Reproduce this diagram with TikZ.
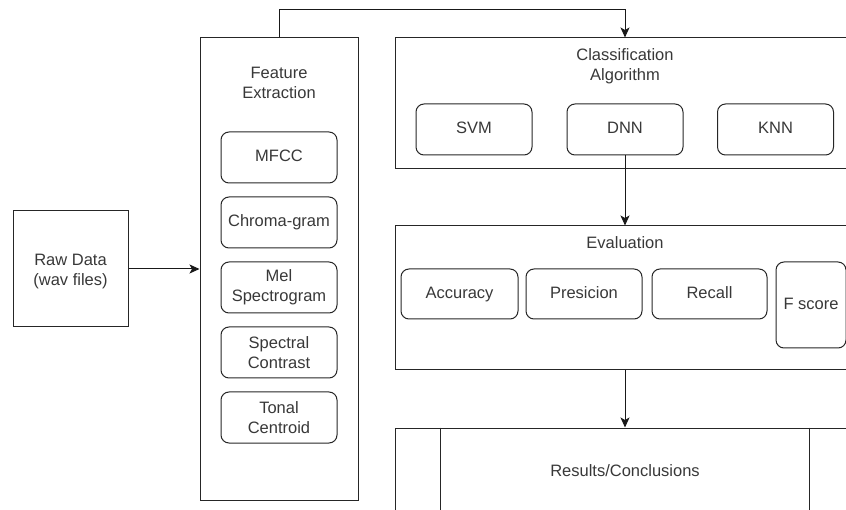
\documentclass[tikz,border=0pt]{standalone}
\usepackage{fontspec}
\setmainfont{Liberation Sans}
\usetikzlibrary{arrows.meta}
\begin{document}
\begin{tikzpicture}[x=1pt,y=-1pt,
  box/.style={draw=black!85, line width=1pt, rectangle, inner sep=0pt, align=center},
  rbox/.style={box, rounded corners=8pt, text=black!78},
  one/.style={text height=12pt, text depth=3.5pt},
  lbl/.style={align=center, inner sep=0pt, text=black!78},
  arr/.style={draw=black!90, line width=1pt, -{Stealth[length=10pt,width=9pt,inset=2.5pt]}},
  font=\fontsize{16.5}{20}\selectfont]
\useasboundingbox (0,0) rectangle (846,510);
\clip (0,0) rectangle (846,510);
% Raw data
\node[box, minimum width=115, minimum height=116] (raw) at (70.5,269) {};
\node[lbl] (rawl) at (70.5,271.5) {Raw Data\\(wav files)};
% Feature extraction
\node[box, minimum width=158, minimum height=462] (fe) at (279,269) {};
\node[lbl] (fel) at (279,83) {Feature\\Extraction};
\node[rbox, one, minimum width=116, minimum height=51] (mfcc) at (279,157.5) {MFCC};
\node[rbox, one, minimum width=116, minimum height=51] (chroma) at (279,222.5) {Chroma-gram};
\node[rbox, minimum width=116, minimum height=51] (mel) at (279,287.5) {Mel\\Spectrogram};
\node[rbox, minimum width=116, minimum height=51] (spec) at (279,352.5) {Spectral\\Contrast};
\node[rbox, minimum width=116, minimum height=51] (tonal) at (279,417.5) {Tonal\\Centroid};
% Classification
\node[box, minimum width=460, minimum height=131] (class) at (625,103.5) {};
\node[lbl] (classl) at (625,66) {Classification\\Algorithm};
\node[rbox, one, minimum width=116, minimum height=51] (svm) at (474,129.5) {SVM};
\node[rbox, one, minimum width=116, minimum height=51] (dnn) at (625,129.5) {DNN};
\node[rbox, one, minimum width=116, minimum height=51] (knn) at (775.5,129.5) {KNN};
% Evaluation
\node[box, minimum width=460, minimum height=144] (eval) at (625,298) {};
\node[lbl, one] (evall) at (625,244) {Evaluation};
\node[rbox, one, minimum width=117, minimum height=50] (acc) at (459.5,294) {Accuracy};
\node[rbox, one, minimum width=116, minimum height=50] (pre) at (584,294) {Presicion};
\node[rbox, one, minimum width=115, minimum height=50] (rec) at (709.5,294) {Recall};
\node[rbox, one, minimum width=70, minimum height=86] (fs) at (811,305) {F score};
% Results
\node[box, minimum width=460, minimum height=88] (res) at (625,472) {};
\node[lbl, one] (resl) at (625,472) {Results/Conclusions};
\draw[black!85, line width=1pt] ([xshift=46pt]res.north west) -- ([xshift=46pt]res.south west);
\draw[black!85, line width=1pt] ([xshift=-46pt]res.north east) -- ([xshift=-46pt]res.south east);
% connectors
\coordinate (t1) at (279,10);
\draw[arr] (raw.east) -- (fe.west |- raw.east);
\draw[arr] (fe.north) -- (t1) -| (class.north);
\draw[arr] (dnn.south) -- (eval.north);
\draw[arr] (eval.south) -- (res.north);
\end{tikzpicture}
\end{document}
